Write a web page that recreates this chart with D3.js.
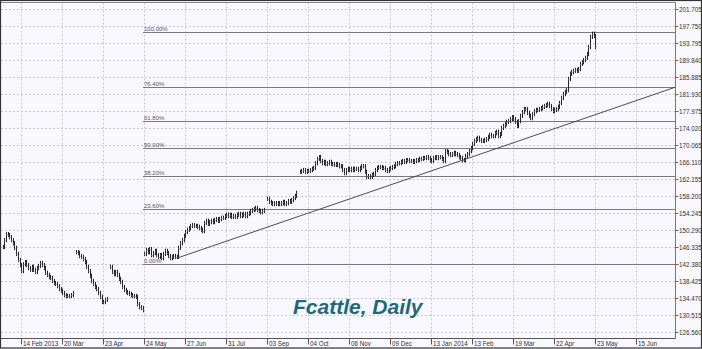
<!DOCTYPE html>
<html><head><meta charset="utf-8">
<script src="https://cdnjs.cloudflare.com/ajax/libs/d3/7.8.5/d3.min.js"></script>
<style>html,body{margin:0;padding:0;background:#f8f8fe;}svg{display:block;}</style>
</head><body>
<script>
// ---- data (bar index based, daily closes per contiguous segment) ----
const segStarts = [0, 43, 63, 83, 155, 174];
const closesA = [146.4,148.0,149.4,149.2,148.7,148.0,147.3,146.2,144.8,143.4,
  142.2,140.8,142.4,142.9,142.2,141.5,141.1,141.8,141.1,140.6,
  141.5,142.0,142.7,142.2,141.5,140.4,139.9,139.4,139.2,138.5,
  138.0,137.8,137.3,136.6,136.2,135.7,135.2,135.0,135.0,135.0,135.2,135.7];
const closesB = [145.2,145.0,144.3,144.1,143.6,142.9,141.8,140.8,139.7,138.5,
  137.8,137.1,136.6,135.7,134.8,133.6,133.6,134.1,134.3];
const closesC = [141.8,140.6,140.1,140.6,139.9,139.0,138.3,137.1,136.4,135.9,
  135.7,135.5,135.2,135.0,135.0,134.8,133.1,132.4,132.2,131.7];
const closesD = [144.8,145.7,145.2,145.9,144.5,145.0,145.5,144.5,144.1,144.5,
  143.8,144.8,145.5,145.0,144.3,143.8,144.1,144.3,144.1,144.1,
  146.2,147.3,148.0,149.0,149.9,150.4,150.8,151.3,151.5,151.3,
  151.3,151.1,150.8,150.4,150.1,152.0,152.5,151.8,152.2,152.5,
  152.2,152.7,152.9,152.5,152.9,153.2,153.2,153.6,153.9,153.6,
  153.9,153.4,153.6,153.4,153.9,154.1,153.6,153.9,154.1,153.6,
  154.1,154.3,154.8,155.0,155.2,155.5,155.0,154.8,154.5,154.8,155.0];
const closesE = [157.6,156.9,156.6,156.4,156.6,156.4,156.6,156.4,156.6,156.9,
  156.4,156.6,157.1,156.9,157.3,157.8,158.3,159.0];
const closesF = [163.9,164.1,164.3,163.9,164.1,164.1,164.3,164.6,164.8,165.9,
  166.9,167.3,166.4,165.9,166.2,165.7,165.9,166.2,165.7,165.7,
  165.5,165.7,165.5,165.2,165.2,164.3,163.6,164.3,164.6,164.3,
  164.6,164.3,164.6,164.6,164.3,164.8,165.2,165.2,163.9,162.7,
  162.9,162.7,163.2,163.4,164.3,164.8,165.0,165.0,164.8,164.8,
  164.3,164.1,164.6,164.8,165.0,165.2,165.7,165.9,165.9,166.2,
  166.4,166.2,166.6,166.6,166.4,166.4,166.2,166.4,166.6,166.6,
  166.9,166.9,167.1,167.1,167.3,167.1,166.6,166.4,167.1,167.3,
  167.1,167.3,167.3,166.9,166.4,168.7,168.5,168.0,167.8,168.0,
  168.3,168.0,167.8,167.3,167.1,166.6,166.6,167.6,168.0,168.7,
  169.4,170.4,171.1,171.5,171.8,171.3,171.1,171.1,171.3,171.5,
  172.0,172.5,172.2,172.2,172.9,173.2,172.2,172.7,174.1,174.6,
  175.0,175.5,175.7,176.2,176.6,176.2,175.5,174.6,175.7,176.9,
  177.8,178.5,178.5,177.6,176.9,176.4,177.3,178.0,178.3,178.3,
  178.5,178.7,179.0,179.2,179.4,179.7,179.2,178.5,178.0,178.3,
  178.5,179.0,179.9,181.1,182.0,182.5,182.9,185.5,186.7,187.1,
  187.4,187.6,187.4,187.8,189.0,189.4,189.9,190.4,191.3,192.9,
  195.3,196.0,195.5,192.9];
const xTickBars = [11,35,59,83,107,131,155,179,203,227,251,275,299,323,347,371];
const xTickLabels = ["14 Feb 2013","20 Mar","23 Apr","24 May","27 Jun","31 Jul","03 Sep","04 Oct",
  "06 Nov","09 Dec","13 Jan 2014","13 Feb","19 Mar","22 Apr","23 May","15 Jun"];
const yTicks = [126.560,130.515,134.470,138.425,142.380,146.335,150.290,154.245,158.200,162.155,
  166.110,170.065,174.020,177.975,181.930,185.885,189.840,193.795,197.750,201.705];
const fibLevels = [0, 0.236, 0.382, 0.5, 0.618, 0.764, 1.0];
const fibLabels = ["0.00%","23.60%","38.20%","50.00%","61.80%","76.40%","100.00%"];
const fibLow = 142.40, fibHigh = 196.40, fibStartBar = 83;
const trendBars = [102, 394];
const trendPrices = [143.8, 183.6];
const title = "Fcattle, Daily";

// ---- drawing ----
const W = 702, H = 349;
const plotR = 675.5, plotB = 338.5, plotT = 2.5;
const svg = d3.select("body").append("svg").attr("width", W).attr("height", H);
svg.append("rect").attr("width", W).attr("height", H).attr("fill", "#f8f8fe");

const x = d3.scaleLinear().domain([0, 371]).range([2.5, 636.3]);
const y = d3.scaleLinear().domain([126.56, 201.705]).range([332.3, 9.3]);

const grid = svg.append("g");
grid.selectAll("line.h").data(yTicks).join("line")
  .attr("x1", 1).attr("x2", plotR)
  .attr("y1", d => Math.round(y(d)) + 0.5).attr("y2", d => Math.round(y(d)) + 0.5)
  .attr("stroke", "#c9c9cf").attr("stroke-dasharray", "2,2");
grid.selectAll("line.v").data(xTickBars).join("line")
  .attr("x1", d => Math.round(x(d)) + 0.5).attr("x2", d => Math.round(x(d)) + 0.5)
  .attr("y1", plotT).attr("y2", plotB)
  .attr("stroke", "#c9c9cf").attr("stroke-dasharray", "2,2");

// fib lines
const fibG = svg.append("g");
fibLevels.forEach((f, i) => {
  const p = fibLow + f * (fibHigh - fibLow);
  const yy = Math.round(y(p)) + 0.5;
  fibG.append("line").attr("x1", Math.round(x(fibStartBar)) - 1).attr("x2", plotR)
    .attr("y1", yy).attr("y2", yy).attr("stroke", "#7a7a7a").attr("stroke-width", 1);
  fibG.append("text").attr("x", Math.round(x(fibStartBar))).attr("y", yy - 2)
    .attr("font-family", "Liberation Sans, Arial, sans-serif").attr("font-size", 6)
    .attr("fill", "#555").text(fibLabels[i]);
});

// bars
const segs = [closesA, closesB, closesC, closesD, closesE, closesF];
const barG = svg.append("g").attr("stroke-width", 1);
segs.forEach((closes, s) => {
  closes.forEach((c, k) => {
    const o = k === 0 ? c : closes[k - 1];
    const hi = Math.max(o, c) + 0.5, lo = Math.min(o, c) - 0.5;
    const xx = Math.round(x(segStarts[s] + k)) + 0.5;
    barG.append("line").attr("x1", xx).attr("x2", xx).attr("y1", y(hi)).attr("y2", y(lo)).attr("stroke", "#262626");
    barG.append("line").attr("x1", xx).attr("x2", xx + 1).attr("y1", Math.round(y(c)) + 0.5).attr("y2", Math.round(y(c)) + 0.5).attr("stroke", "#8c8c8c");
  });
});

// trend line
svg.append("line")
  .attr("x1", x(trendBars[0])).attr("y1", y(trendPrices[0]))
  .attr("x2", x(trendBars[1])).attr("y2", y(trendPrices[1]))
  .attr("stroke", "#3a3a3a").attr("stroke-width", 0.9);

// plot frame
svg.append("line").attr("x1", 1).attr("x2", plotR).attr("y1", plotT).attr("y2", plotT).attr("stroke", "#8a8a8a");
svg.append("line").attr("x1", plotR).attr("x2", plotR).attr("y1", plotT).attr("y2", plotB).attr("stroke", "#777");
svg.append("line").attr("x1", 1).attr("x2", plotR).attr("y1", plotB).attr("y2", plotB).attr("stroke", "#555");

// y axis
const yAx = svg.append("g");
yTicks.forEach(t => {
  const yy = Math.round(y(t)) + 0.5;
  yAx.append("line").attr("x1", plotR).attr("x2", plotR + 3).attr("y1", yy).attr("y2", yy).attr("stroke", "#666");
  yAx.append("text").attr("x", plotR + 3.5).attr("y", yy + 2.2)
    .attr("font-family", "Liberation Sans, Arial, sans-serif").attr("font-size", 6.3)
    .attr("fill", "#333").text(t.toFixed(3));
});

// x axis
const xAx = svg.append("g");
xTickBars.forEach((b, i) => {
  const xx = Math.round(x(b)) + 0.5;
  xAx.append("line").attr("x1", xx).attr("x2", xx).attr("y1", plotB).attr("y2", plotB + 6).attr("stroke", "#555");
  xAx.append("text").attr("x", xx + 1.5).attr("y", 345.5)
    .attr("font-family", "Liberation Sans, Arial, sans-serif").attr("font-size", 6.3)
    .attr("fill", "#333").text(xTickLabels[i]);
});

// title
svg.append("text").attr("x", 293).attr("y", 313.5)
  .attr("font-family", "Liberation Sans, Arial, sans-serif").attr("font-size", 21)
  .attr("font-weight", "bold").attr("font-style", "italic")
  .attr("fill", "#1c6a78").text(title);

// outer border
svg.append("rect").attr("x", 0.5).attr("y", 0.5).attr("width", W - 1).attr("height", H - 1.5)
  .attr("fill", "none").attr("stroke", "#333").attr("stroke-width", 1.2);
</script>
</body></html>
